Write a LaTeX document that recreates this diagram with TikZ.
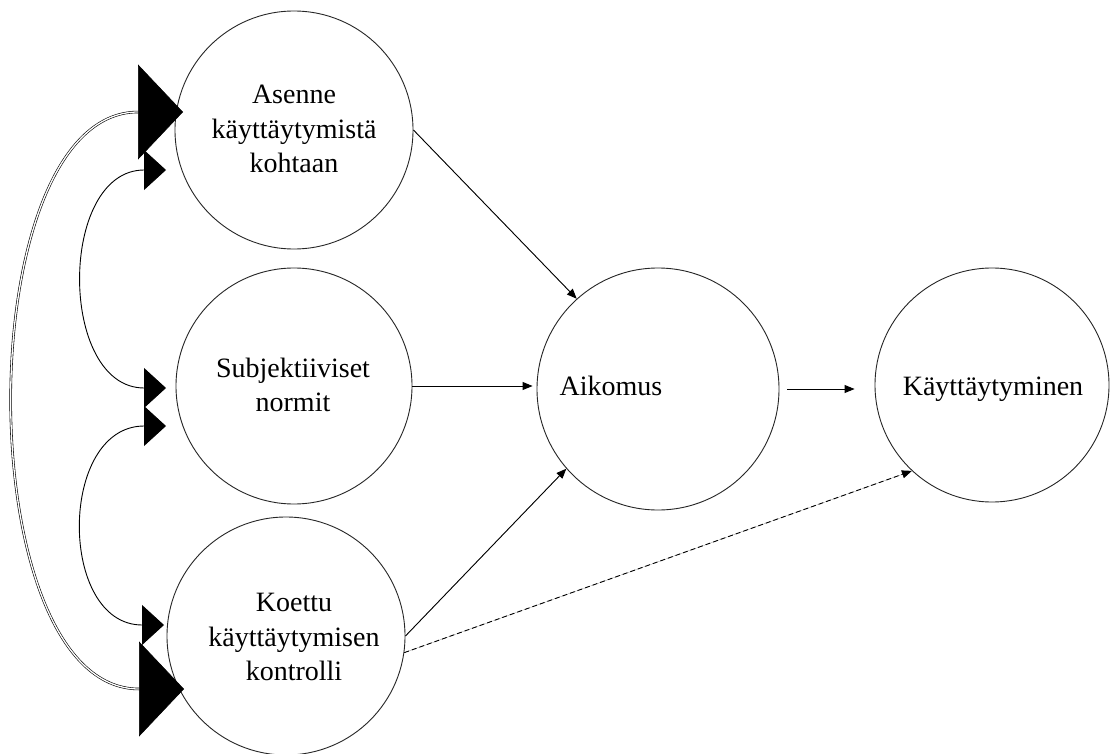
\documentclass[tikz,border=0pt]{standalone}
\usepackage{fontspec}
\setmainfont{Liberation Serif}
\usetikzlibrary{arrows.meta}
\tikzset{
  bigtip/.tip={Triangle[length=45pt,width=95pt]},
  smalltip/.tip={Triangle[length=22pt,width=40pt]},
  arrtip/.tip={Triangle[length=10pt,width=8pt]},
}
\begin{document}
\begin{tikzpicture}[x=1pt,y=-1pt,
  circ/.style={circle,draw=black!85,line width=0.9pt,inner sep=0pt,minimum size=#1},
  lbl/.style={font=\fontsize{28}{34.5}\selectfont,align=center,inner sep=0pt},
  conn/.style={line width=0.9pt,draw=black,fill=black,-{arrtip}},
  dashconn/.style={conn,dash pattern=on 5pt off 3pt},
  bendline/.style={line width=0.9pt,draw=black,fill=none},
  outerline/.style={double=white,draw=black,double distance=1.3pt,line width=0.6pt},
]
\useasboundingbox[fill=white] (0,0) rectangle (1110,754);

% circles
\node[circ=238pt] (asenne) at (294,130) {};
\node[circ=236pt] (subj)   at (294,386) {};
\node[circ=238pt] (koettu) at (286,636) {};
\node[circ=242pt] (aik)    at (658,389) {};
\node[circ=234pt] (kay)    at (992,385) {};

% texts
\node[lbl] (tasenne) at (294,129) {Asenne\\käyttäytymistä\\kohtaan};
\node[lbl] (tsubj)   at (293,385) {Subjektiiviset\\normit};
\node[lbl] (tkoettu) at (294,637) {Koettu\\käyttäytymisen\\kontrolli};
\node[lbl,anchor=base] (taik) at (611,395) {Aikomus};
\node[lbl,anchor=base] (tkay) at (993,395) {Käyttäytyminen};

% straight connectors
\draw[conn] (asenne.east) -- (aik.132);
\draw[conn,shorten >=4pt] (subj.east) -- (subj.east -| aik.west);
\draw[conn] (koettu.east) -- (aik.221);
\draw[dashconn] (koettu.-8) -- (kay.227);
\draw[conn,shorten <=8pt,shorten >=20pt] (aik.east) -- (aik.east -| kay.west);

% curved bidirectional connectors
\coordinate (a1) at (166,170);
\coordinate (s1) at (166,388);
\coordinate (s2) at (166,426);
\coordinate (k1) at (164,625);
\coordinate (a0) at (183,112);
\coordinate (k0) at (184,689);

\draw[bendline,{smalltip[fill=black]}-{smalltip[fill=black]}] (a1) .. controls (58,170) and (58,388) .. (s1);
\draw[bendline,{smalltip[fill=black]}-{smalltip[fill=black]}] (s2) .. controls (58,426) and (58,625) .. (k1);
\draw[outerline,{bigtip[fill=black]}-{bigtip[fill=black]}] (a0) .. controls (-32,112) and (-32,689) .. (k0);
\end{tikzpicture}
\end{document}
